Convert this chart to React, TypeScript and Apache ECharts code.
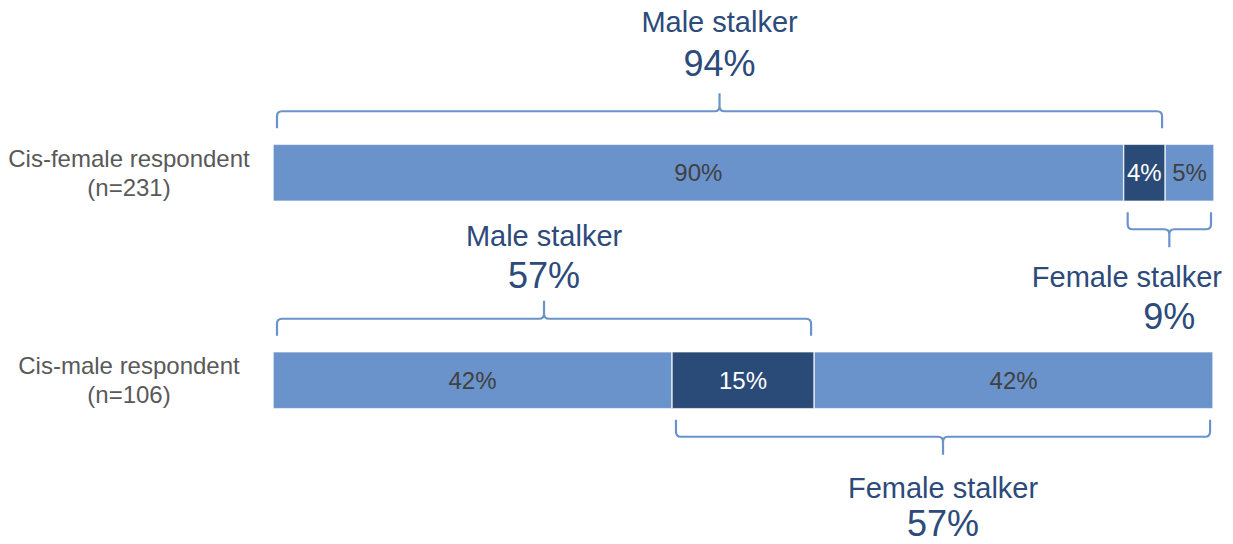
import React, { useEffect, useRef } from "react";
import * as echarts from "echarts";

const categories = ["Cis-female respondent\n(n=231)", "Cis-male respondent\n(n=106)"];
const seg1 = [90.4, 42.4];
const seg2 = [4.4, 15.1];
const seg3 = [5.2, 42.4];
const bracketBars = [0, 0, 1, 1];
const bracketFrom = [0, 1, 0, 1];
const bracketTo = [2, 3, 2, 3];
const bracketSide = ["top", "bottom", "top", "bottom"];
const bracketTitles = ["Male stalker", "Female stalker", "Male stalker", "Female stalker"];
const bracketPcts = ["94%", "9%", "57%", "57%"];

// layout offsets (px) of the bracket captions from the bracket line
const TITLE_OFFSET = [-89, 48, -83, 51];
const PCT_OFFSET = [-48, 87, -43, 87];

const LIGHT = "#6A93CC";
const DARK = "#2A4A77";
const BRACKET = "#6A93CC";
const TITLE = "#2C4A7A";
const FONT = "'Liberation Sans', Arial, sans-serif";

let registered = false;
function registerBracket() {
  if (registered) return;
  registered = true;
  const Bracket = (echarts.graphic as any).extendShape({
    type: "bracket",
    shape: { x0: 0, x1: 0, xm: 0, yEnd: 0, yBase: 0, yTip: 0 },
    buildPath(ctx: any, s: any) {
      const r = 5;
      const dir = s.yBase < s.yEnd ? -1 : 1;
      ctx.moveTo(s.x0, s.yEnd);
      ctx.lineTo(s.x0, s.yBase - dir * r);
      ctx.quadraticCurveTo(s.x0, s.yBase, s.x0 + r, s.yBase);
      ctx.lineTo(s.xm - r, s.yBase);
      ctx.quadraticCurveTo(s.xm, s.yBase, s.xm, s.yBase + dir * r);
      ctx.lineTo(s.xm, s.yTip);
      ctx.moveTo(s.xm, s.yBase + dir * r);
      ctx.quadraticCurveTo(s.xm, s.yBase, s.xm + r, s.yBase);
      ctx.lineTo(s.x1 - r, s.yBase);
      ctx.quadraticCurveTo(s.x1, s.yBase, s.x1, s.yBase - dir * r);
      ctx.lineTo(s.x1, s.yEnd);
    },
  });
  (echarts.graphic as any).registerShape("bracket", Bracket);
}

function measure(text: string, size: number) {
  const c = document.createElement("canvas").getContext("2d");
  if (!c) return text.length * size * 0.5;
  c.font = `${size}px 'Liberation Sans', Arial, sans-serif`;
  return c.measureText(text).width;
}

export default function App() {
  const ref = useRef<HTMLDivElement>(null);
  useEffect(() => {
    document.body.style.margin = "0";
    registerBracket();
    const el = ref.current!;
    const chart = echarts.init(el, undefined, { renderer: "svg" });
    const mkLabel = (color: string) => ({
      show: true,
      position: "inside" as const,
      color,
      fontSize: 24,
      fontFamily: FONT,
      formatter: (p: any) => `${Math.round(p.value)}%`,
    });
    const series = [seg1, seg2, seg3].map((d, i) => ({
      type: "bar",
      stack: "s",
      data: d,
      barWidth: 57,
      itemStyle: { color: i === 1 ? DARK : LIGHT, borderColor: "#ffffff", borderWidth: 0.6 },
      label: mkLabel(i === 1 ? "#ffffff" : "#404040"),
    }));
    chart.setOption({
      animation: false,
      grid: { left: 273, right: 19, top: 69, bottom: 60 },
      xAxis: { type: "value", min: 0, max: 100, show: false },
      yAxis: {
        type: "category",
        inverse: true,
        data: categories,
        axisLine: { show: false },
        axisTick: { show: false },
        axisLabel: {
          align: "center",
          margin: 144,
          color: "#595959",
          fontSize: 24,
          lineHeight: 29,
          fontFamily: FONT,
        },
      },
      series,
    });

    const W = chart.getWidth();
    const graphics: any[] = [];
    for (let b = 0; b < bracketBars.length; b++) {
      const bar = bracketBars[b];
      const cum = [0, seg1[bar], seg1[bar] + seg2[bar], seg1[bar] + seg2[bar] + seg3[bar]];
      const px0 = chart.convertToPixel({ xAxisIndex: 0 }, cum[bracketFrom[b]]) as number;
      const px1 = chart.convertToPixel({ xAxisIndex: 0 }, cum[bracketTo[b]]) as number;
      const cy = chart.convertToPixel({ yAxisIndex: 0 }, bar) as number;
      const top = bracketSide[b] === "top";
      const barEdge = top ? cy - 28.5 : cy + 28.5;
      const s = top ? -1 : 1;
      const x0 = px0 + 4;
      const x1 = px1 - 3;
      const xm = (x0 + x1) / 2;
      const yEnd = barEdge + s * (top ? 16 : 11);
      const yBase = barEdge + s * (top ? 33 : 28);
      const yTip = barEdge + s * (top ? 51 : 46);
      graphics.push({
        type: "bracket",
        shape: { x0, x1, xm, yEnd, yBase, yTip },
        style: { stroke: BRACKET, lineWidth: 2.2, fill: null },
        silent: true,
      });
      const titleY = yBase + TITLE_OFFSET[b];
      const pctY = yBase + PCT_OFFSET[b];
      const tw = measure(bracketTitles[b], 29);
      let tx = xm;
      if (tx + tw / 2 > W - 11) tx = W - 11 - tw / 2;
      graphics.push({
        type: "text",
        x: tx,
        y: titleY,
        style: {
          text: bracketTitles[b],
          fontSize: 29,
          fontFamily: FONT,
          fill: TITLE,
          textAlign: "center",
          textVerticalAlign: "middle",
        },
      });
      graphics.push({
        type: "text",
        x: xm,
        y: pctY,
        style: {
          text: bracketPcts[b],
          fontSize: 36,
          fontFamily: FONT,
          fill: TITLE,
          textAlign: "center",
          textVerticalAlign: "middle",
        },
      });
    }
    chart.setOption({ graphic: graphics });
    return () => chart.dispose();
  }, []);
  return <div ref={ref} style={{ width: 1233, height: 544 }} />;
}
